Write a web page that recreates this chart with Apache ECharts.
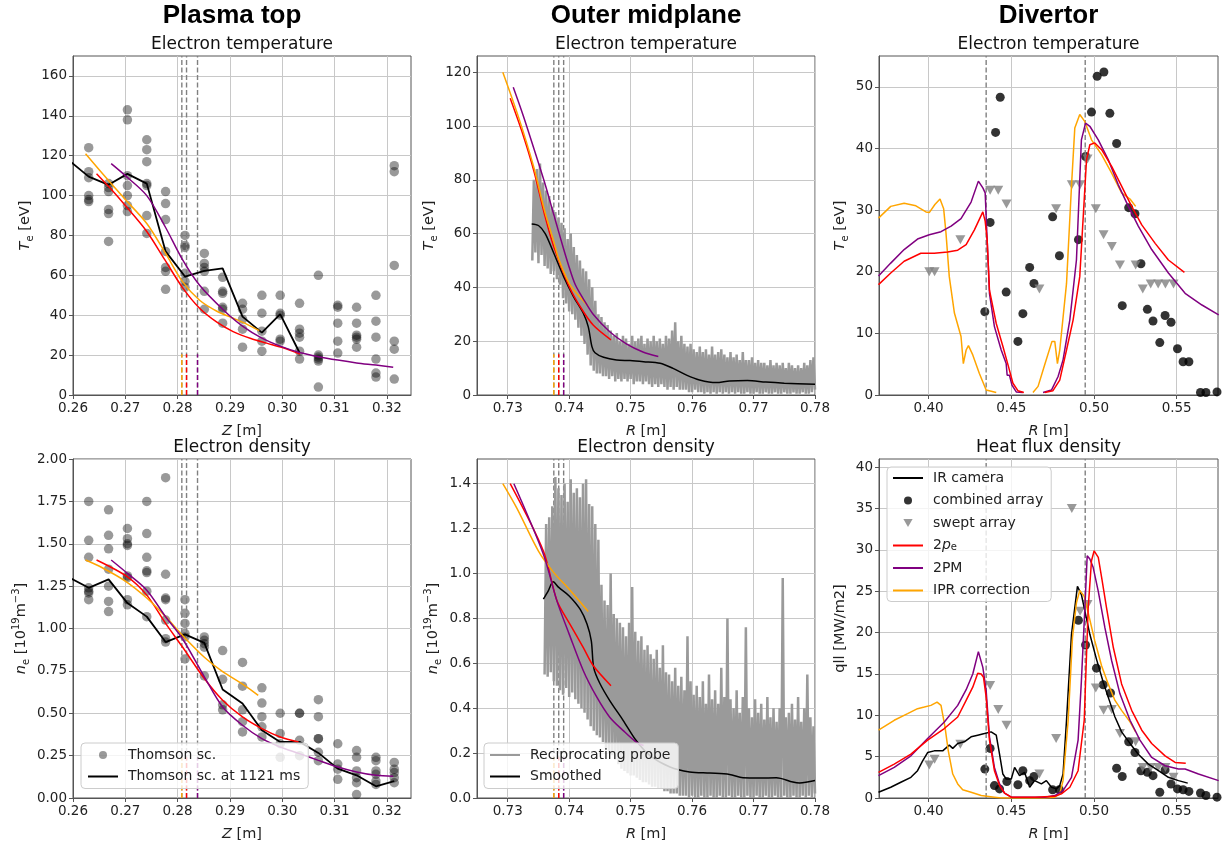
<!DOCTYPE html>
<html>
<head>
<meta charset="utf-8">
<script src="https://cdn.jsdelivr.net/npm/echarts@6/dist/echarts.min.js"></script>
<style>
  html, body { margin: 0; padding: 0; background: #fff; }
  #chart { width: 1223px; height: 845px; }
</style>
</head>
<body>
<div id="chart"></div>
<script>
// ---------- text ----------
const columnTitles = ["Plasma top", "Outer midplane", "Divertor"];
const panelTitles = ["Electron temperature", "Electron temperature", "Electron temperature",
  "Electron density", "Electron density", "Heat flux density"];

// ---------- axes ----------
const xTicksZ = [0.26, 0.27, 0.28, 0.29, 0.30, 0.31, 0.32];
const xTicksMid = [0.73, 0.74, 0.75, 0.76, 0.77, 0.78];
const xTicksDiv = [0.40, 0.45, 0.50, 0.55];
const yTicksTopTe = [0, 20, 40, 60, 80, 100, 120, 140, 160];
const yTicksMidTe = [0, 20, 40, 60, 80, 100, 120];
const yTicksDivTe = [0, 10, 20, 30, 40, 50];
const yTicksTopNe = [0, 0.25, 0.5, 0.75, 1.0, 1.25, 1.5, 1.75, 2.0];
const yTicksMidNe = [0, 0.2, 0.4, 0.6, 0.8, 1.0, 1.2, 1.4];
const yTicksQ = [0, 5, 10, 15, 20, 25, 30, 35, 40];
const xRanges = [[0.26, 0.3246], [0.725, 0.78], [0.37, 0.575], [0.26, 0.3246], [0.725, 0.78], [0.37, 0.575]];
const yRanges = [[0, 170], [0, 126], [0, 55], [0, 2], [0, 1.51], [0, 41]];

// ---------- separatrix / strike-point positions ----------
const sepTop = [0.2808, 0.2817, 0.2838];        // orange, red, purple
const sepMid = [0.7375, 0.7383, 0.7391];
const sepDiv = [0.4348, 0.4947];
const markFrac = 0.12;

// ---------- Plasma top: Thomson scattering ----------
const thomsonZ = [0.2630, 0.2668, 0.2704, 0.2741, 0.2777, 0.2814, 0.2851, 0.2886, 0.2924,
  0.2961, 0.2996, 0.3033, 0.3069, 0.3106, 0.3142, 0.3179, 0.3214];
const thomsonTe = [
  [124, 112, 109, 100, 98, 97],
  [106, 104, 102, 93, 91, 77],
  [143, 138, 110, 105, 100, 95, 92],
  [128, 123, 117, 106, 105, 90, 81],
  [102, 96, 88, 72, 64, 62, 53],
  [80, 75, 74, 61, 57, 54],
  [71, 66, 64, 62, 52, 43],
  [59, 52, 51, 44, 43, 36],
  [46, 43, 38, 33, 24],
  [50, 41, 32, 27, 22],
  [50, 41, 40, 28, 27],
  [46, 33, 31, 29, 22, 18],
  [60, 20, 19, 18, 17, 4],
  [45, 44, 36, 27, 21],
  [44, 36, 30, 29, 28, 24],
  [50, 37, 29, 18, 11, 9],
  [115, 112, 65, 27, 23, 8]
];
const thomsonNe = [
  [1.75, 1.52, 1.42, 1.24, 1.22, 1.21, 1.17],
  [1.70, 1.55, 1.47, 1.35, 1.25, 1.16, 1.10],
  [1.59, 1.53, 1.50, 1.49, 1.31, 1.30, 1.17, 1.14],
  [1.75, 1.56, 1.42, 1.34, 1.33, 1.22, 1.07],
  [1.89, 1.32, 1.18, 1.17, 1.05, 0.94, 0.92],
  [1.17, 1.09, 1.03, 0.97, 0.95, 0.82],
  [0.95, 0.93, 0.91, 0.89, 0.72],
  [0.87, 0.70, 0.55, 0.52],
  [0.80, 0.66, 0.52, 0.45, 0.39],
  [0.65, 0.56, 0.48, 0.42, 0.36],
  [0.50, 0.38, 0.32, 0.24],
  [0.50, 0.50, 0.34, 0.25],
  [0.58, 0.48, 0.35, 0.35, 0.27, 0.22],
  [0.32, 0.20, 0.17, 0.11],
  [0.28, 0.24, 0.16, 0.12, 0.09, 0.02],
  [0.24, 0.22, 0.16, 0.14, 0.10, 0.08],
  [0.21, 0.17, 0.15, 0.12, 0.09]
];
const te1121 = [[0.2593, 117.5], [0.2630, 109.5], [0.2668, 105.4], [0.2704, 110.9], [0.2741, 106],
  [0.2777, 72], [0.2814, 59.4], [0.2851, 62.2], [0.2886, 63.5], [0.2924, 39.3], [0.2961, 31.3],
  [0.2996, 40.6], [0.3033, 21.2]];
const ne1121 = [[0.2593, 1.30], [0.2630, 1.24], [0.2668, 1.29], [0.2704, 1.15], [0.2741, 1.07],
  [0.2777, 0.92], [0.2814, 0.965], [0.2851, 0.915], [0.2886, 0.64], [0.2924, 0.557], [0.2961, 0.40],
  [0.2996, 0.331], [0.3033, 0.331], [0.3069, 0.266], [0.3106, 0.173], [0.3142, 0.134],
  [0.3179, 0.069], [0.3214, 0.10]];

const topTeIpr = [[0.2624, 121], [0.265, 113], [0.27, 98], [0.2741, 86], [0.2777, 71], [0.2809, 57],
  [0.2842, 47.5], [0.2875, 42], [0.2906, 38.5], [0.293, 35.8], [0.2956, 32.3]];
const topTe2pe = [[0.2645, 111], [0.267, 104], [0.27, 95], [0.2741, 82], [0.2775, 68], [0.2809, 54],
  [0.2842, 43.5], [0.2875, 36.5], [0.2906, 31.8], [0.294, 28.3], [0.297, 26], [0.30, 23.8], [0.3034, 20.5]];
const topTe2pm = [[0.2673, 116], [0.27, 110], [0.2741, 100], [0.2777, 84], [0.2809, 68], [0.2842, 55],
  [0.2886, 43], [0.2924, 34.5], [0.2961, 28.5], [0.2996, 24.5], [0.3033, 21.3], [0.3069, 19.2],
  [0.3106, 17.5], [0.3142, 16.1], [0.3179, 15], [0.3212, 13.9]];

const topNeIpr = [[0.2624, 1.404], [0.2655, 1.36], [0.27, 1.28], [0.2741, 1.18], [0.2777, 1.07],
  [0.2809, 0.96], [0.2851, 0.83], [0.2886, 0.745], [0.2924, 0.672], [0.2954, 0.606]];
const topNe2pe = [[0.2645, 1.404], [0.2704, 1.305], [0.2741, 1.197], [0.2777, 1.03], [0.2809, 0.892],
  [0.2851, 0.705], [0.2886, 0.577], [0.2924, 0.478], [0.2961, 0.409], [0.2996, 0.36], [0.3031, 0.33]];
const topNe2pm = [[0.2673, 1.404], [0.2704, 1.325], [0.2741, 1.226], [0.2777, 1.069], [0.2809, 0.941],
  [0.2851, 0.715], [0.2886, 0.537], [0.2924, 0.429], [0.2961, 0.35], [0.2996, 0.301], [0.3033, 0.262],
  [0.3069, 0.222], [0.3106, 0.183], [0.3142, 0.154], [0.3179, 0.134], [0.3212, 0.128]];

// ---------- Outer midplane: reciprocating probe (sampled every 0.25 mm) ----------
const probeTeStart = 0.734;
const probeNeStart = 0.736;
const probeStep = 0.00025;
const probeTe = [
  50, 80, 53, 84, 49, 86, 52, 79, 48, 76,
  47, 74, 45, 70, 46, 68, 43, 66, 41, 64,
  36, 62, 34, 58, 31, 60, 30, 55, 28, 52,
  25, 50, 22, 47, 19, 46, 15, 43, 11, 40,
  9, 35, 8, 30, 8, 29, 7, 27, 7, 26,
  6, 24, 7, 22, 5, 23, 6, 20, 5, 22,
  6, 21, 5, 19, 6, 22, 4, 20, 5, 21,
  5, 22, 4, 19, 5, 21, 4, 20, 3, 22,
  4, 20, 3, 21, 4, 19, 3, 22, 2, 21,
  3, 24, 2, 27, 3, 20, 2, 22, 2, 19,
  2, 18, 1, 19, 1, 17, 2, 16, 1, 18,
  1, 16, 0.5, 17, 1, 15, 0.5, 18, 1, 15,
  0.5, 16, 1, 17, 0.5, 15, 1, 14, 0.5, 16,
  1, 14, 0.5, 15, 1, 13, 0.5, 16, 0.5, 13,
  1, 13, 0.5, 14, 0.5, 12, 1, 13, 0.5, 12,
  0.5, 12, 1, 11, 0.5, 13, 0.5, 11, 1, 12,
  0.5, 11, 0.5, 12, 1, 10, 0.5, 12, 0.5, 11,
  1, 10, 0.5, 11, 0.5, 10, 1, 12, 0.5, 11,
  0.5, 13, 1, 14, 2];
const probeNe = [
  0.55, 1.22, 0.54, 1.25, 0.56, 1.30, 0.52, 1.43, 0.50, 1.38,
  0.48, 1.35, 0.46, 1.40, 0.49, 1.32, 0.45, 1.42, 0.47, 1.36,
  0.44, 1.38, 0.42, 1.34, 0.40, 1.40, 0.38, 1.42, 0.35, 1.31,
  0.32, 1.30, 0.30, 1.22, 0.28, 1.15, 0.27, 0.95, 0.25, 0.88,
  0.22, 0.86, 0.20, 1.00, 0.19, 0.82, 0.17, 0.80, 0.15, 0.78,
  0.13, 0.76, 0.12, 0.72, 0.11, 0.78, 0.10, 0.94, 0.10, 0.74,
  0.09, 0.70, 0.08, 0.72, 0.07, 0.66, 0.07, 0.68, 0.06, 0.64,
  0.05, 0.62, 0.05, 0.66, 0.04, 0.58, 0.04, 0.68, 0.03, 0.56,
  0.03, 0.55, 0.02, 0.52, 0.02, 0.58, 0.02, 0.50, 0.01, 0.54,
  0.01, 0.48, 0.01, 0.72, 0.0, 0.52, 0.01, 0.46, 0.0, 0.50,
  0.0, 0.45, 0.01, 0.52, 0.0, 0.42, 0.0, 0.55, 0.01, 0.44,
  0.0, 0.48, 0.0, 0.42, 0.01, 0.58, 0.0, 0.45, 0.0, 0.80,
  0.01, 0.44, 0.0, 0.40, 0.0, 0.48, 0.01, 0.38, 0.0, 0.45,
  0.0, 0.76, 0.01, 0.40, 0.0, 0.36, 0.0, 0.44, 0.01, 0.38,
  0.0, 0.42, 0.0, 0.35, 0.01, 0.45, 0.0, 0.36, 0.0, 0.40,
  0.01, 0.34, 0.0, 0.40, 0.0, 0.98, 0.01, 0.36, 0.0, 0.38,
  0.0, 0.42, 0.01, 0.35, 0.0, 0.45, 0.0, 0.34, 0.01, 0.40,
  0.0, 0.55, 0.01, 0.36, 0.0, 0.32, 0.02];
const midTeSmooth = [[0.7339, 63.6], [0.735, 63], [0.7361, 60], [0.7375, 52.7], [0.7391, 44],
  [0.7407, 36.6], [0.7423, 30.4], [0.7431, 25.4], [0.7437, 18], [0.7442, 15.7], [0.7456, 14],
  [0.7477, 13], [0.7499, 12.8], [0.7521, 12.4], [0.7548, 11.8], [0.7569, 9.9], [0.7591, 7.4],
  [0.7612, 5.6], [0.7639, 4.6], [0.7661, 5.2], [0.769, 5.4], [0.772, 4.8], [0.775, 4.4], [0.78, 4.0]];
const midNeSmooth = [[0.7358, 0.886], [0.7366, 0.923], [0.7374, 0.963], [0.7383, 0.938], [0.74, 0.90],
  [0.7418, 0.84], [0.7429, 0.775], [0.7436, 0.70], [0.7440, 0.58], [0.745, 0.51], [0.7466, 0.434],
  [0.7488, 0.345], [0.7509, 0.256], [0.7531, 0.19], [0.7564, 0.138], [0.7596, 0.116], [0.7629, 0.111],
  [0.7661, 0.105], [0.7683, 0.09], [0.771, 0.089], [0.7737, 0.09], [0.7764, 0.071], [0.7775, 0.067],
  [0.78, 0.078]];

const midTeIpr = [[0.7292, 120], [0.7318, 103], [0.7342, 85], [0.736, 68.5], [0.7375, 57], [0.7383, 50.5],
  [0.74, 41.5], [0.7412, 37.8], [0.7431, 33]];
const midTe2pe = [[0.7304, 110.3], [0.7323, 98], [0.7342, 83.7], [0.736, 67], [0.7375, 55], [0.74, 40.3],
  [0.7418, 32.8], [0.7439, 26], [0.7468, 20.5]];
const midTe2pm = [[0.7309, 114.4], [0.7325, 104], [0.7342, 92], [0.736, 79], [0.7375, 67], [0.739, 55],
  [0.74, 47.5], [0.741, 41], [0.7425, 35], [0.7439, 30], [0.7466, 23.5], [0.7493, 19], [0.752, 16], [0.7545, 14.3]];
const midNeIpr = [[0.7292, 1.40], [0.7315, 1.29], [0.735, 1.10], [0.7375, 1.004], [0.74, 0.93], [0.7431, 0.831]];
const midNe2pe = [[0.7304, 1.40], [0.7358, 1.10], [0.738, 0.88], [0.74, 0.78], [0.7423, 0.67],
  [0.7439, 0.59], [0.7468, 0.50]];
const midNe2pm = [[0.731, 1.40], [0.7358, 1.086], [0.738, 0.878], [0.74, 0.73], [0.7423, 0.567],
  [0.7445, 0.449], [0.7466, 0.36], [0.7488, 0.30], [0.7509, 0.249], [0.7521, 0.234]];

// ---------- Divertor ----------
const divTeComb = [[0.434, 13.5], [0.4372, 28], [0.4405, 42.6], [0.4433, 48.3], [0.4469, 16.7], [0.454, 8.7],
  [0.457, 13.2], [0.4611, 20.7], [0.4637, 18.1], [0.475, 28.9], [0.4791, 22.6], [0.4906, 25.2],
  [0.4949, 38.7], [0.4985, 45.9], [0.5019, 51.7], [0.506, 52.4], [0.5096, 45.7], [0.5137, 40.8],
  [0.5171, 14.5], [0.521, 30.4], [0.5248, 29.4], [0.5284, 21.3], [0.5323, 13.9], [0.5357, 12],
  [0.5398, 8.5], [0.543, 12.9], [0.5466, 11.8], [0.5505, 7.5], [0.5539, 5.4], [0.5574, 5.4],
  [0.5644, 0.4], [0.5677, 0.4], [0.5744, 0.5]];
const divTeSwept = [[0.4004, 20], [0.4036, 20], [0.4192, 25.2], [0.4372, 33.2], [0.4421, 33.2], [0.4471, 31],
  [0.467, 17.2], [0.4771, 30.2], [0.4866, 34.1], [0.4916, 34.1], [0.4961, 38.3], [0.5011, 30.2],
  [0.5058, 26], [0.5108, 24.1], [0.5157, 21.1], [0.5252, 21.1], [0.5295, 17.2], [0.5343, 18],
  [0.5388, 18], [0.5432, 18], [0.5481, 18]];
const divTeIpr = [[0.3697, 28.7], [0.3771, 30.6], [0.3852, 31.1], [0.3923, 30.7], [0.3984, 29.7],
  [0.4004, 29.6], [0.4038, 30.9], [0.4069, 31.8], [0.4091, 30.2], [0.4105, 26.3], [0.4125, 19.2],
  [0.4156, 13.3], [0.4196, 9.5], [0.421, 5.1], [0.4227, 7.3], [0.4241, 8], [0.4267, 6.5],
  [0.4307, 3.5], [0.4348, 0.8], [0.4409, 0.4], [0.45, "-"], [0.4631, 0.4], [0.4662, 1.4],
  [0.4702, 4.9], [0.4746, 8.7], [0.4763, 8.7], [0.4779, 5.1], [0.4793, 7.3], [0.4834, 18.1],
  [0.4864, 33.9], [0.4884, 43.3], [0.4914, 45.5], [0.4944, 44.4], [0.4985, 41.4], [0.5046, 39],
  [0.5107, 36], [0.5167, 32.8], [0.5218, 31.8], [0.5252, 30.6]];
const divTe2pm = [[0.3697, 19.3], [0.3771, 21.4], [0.3852, 23.6], [0.3933, 25.3], [0.4004, 26],
  [0.4075, 26.5], [0.4136, 27.4], [0.4196, 28.6], [0.4257, 31.3], [0.4301, 34.7], [0.4328, 33.6],
  [0.4342, 32.8], [0.4354, 25.2], [0.4368, 16.5], [0.4398, 11.1], [0.4439, 7.3], [0.4469, 5.1],
  [0.4475, 3.2], [0.4489, 3.2], [0.4504, 1.6], [0.453, 0.5], [0.457, 0.4], [0.463, "-"],
  [0.4692, 0.4], [0.4743, 0.8], [0.4783, 3], [0.4813, 5.7], [0.4854, 12.2], [0.4894, 21.9],
  [0.4924, 41.4], [0.4949, 44.1], [0.4975, 43.6], [0.5026, 41.4], [0.5086, 38.2], [0.5147, 34.1],
  [0.5208, 30.6], [0.5268, 27.4], [0.5349, 23.6], [0.545, 19.8], [0.5551, 16.5], [0.5653, 14.6],
  [0.5754, 13]];
const divTe2pe = [[0.3697, 17.9], [0.3771, 19.8], [0.3852, 21.7], [0.3953, 23], [0.4034, 23],
  [0.4115, 23.2], [0.4176, 23.5], [0.4227, 24.4], [0.4277, 26.8], [0.4328, 29.7], [0.4342, 28.2],
  [0.4354, 25.2], [0.4368, 17], [0.4409, 11.6], [0.4449, 7.9], [0.4483, 4.6], [0.451, 1.9],
  [0.454, 0.7], [0.4576, 0.4], [0.464, "-"], [0.4702, 0.4], [0.4752, 0.7], [0.4793, 2.4],
  [0.4834, 7.3], [0.4874, 12.2], [0.4914, 19.2], [0.4941, 31.7], [0.4955, 38.2], [0.4975, 40.6],
  [0.5005, 40.9], [0.5046, 39.8], [0.5107, 37.1], [0.5167, 33.9], [0.5228, 30.6], [0.5289, 27.6],
  [0.537, 24.6], [0.545, 21.9], [0.5547, 19.9]];

const divQIr = [[0.3697, 0.7], [0.3771, 1.3], [0.3832, 1.9], [0.3893, 2.5], [0.3933, 3.3], [0.3964, 4.5],
  [0.3994, 5.5], [0.4034, 5.7], [0.4085, 5.7], [0.4125, 6.4], [0.4146, 6.0], [0.4176, 6.6],
  [0.4216, 6.8], [0.4257, 7.4], [0.4297, 7.6], [0.4338, 7.8], [0.4378, 8.0], [0.4409, 7.6],
  [0.4429, 5.3], [0.4449, 2.9], [0.4469, 2.3], [0.45, 2.3], [0.452, 3.7], [0.455, 2.7], [0.458, 3.1],
  [0.4611, 1.3], [0.4641, 2.1], [0.4682, 1.7], [0.4712, 2.1], [0.4743, 1.3], [0.4773, 1.1],
  [0.4793, 1.5], [0.4813, 2.9], [0.4834, 9.4], [0.4864, 19.8], [0.49, 25.6], [0.4924, 24.6],
  [0.4945, 22.6], [0.4975, 19.8], [0.5015, 16.8], [0.5056, 14], [0.5086, 12.2], [0.5127, 9.8],
  [0.5167, 8], [0.5218, 6.6], [0.5268, 5.3], [0.5329, 4.1], [0.539, 3.3], [0.545, 2.5],
  [0.5511, 2.1], [0.5567, 1.8]];
const divQComb = [[0.434, 3.5], [0.4372, 6], [0.4398, 1.5], [0.4429, 1.1], [0.4473, 2], [0.454, 1.6],
  [0.457, 3.3], [0.4611, 2.1], [0.4637, 2.6], [0.475, 1], [0.4791, 1], [0.4906, 21.5], [0.4949, 18.5],
  [0.5015, 15.7], [0.5056, 13.7], [0.51, 12.7], [0.5137, 3.6], [0.5171, 2.6], [0.521, 6.8],
  [0.5248, 5.5], [0.5284, 3.3], [0.5323, 3.1], [0.5357, 2.7], [0.5398, 0.7], [0.543, 3.4],
  [0.5466, 1.7], [0.5505, 1.1], [0.5539, 1], [0.5574, 0.8], [0.5644, 0.6], [0.5677, 0.3], [0.5744, 0.1]];
const divQSwept = [[0.4004, 4], [0.4036, 4.7], [0.4192, 6.5], [0.4372, 13.6], [0.4421, 10.7], [0.4471, 8.8],
  [0.467, 2.9], [0.4771, 7.2], [0.4866, 35], [0.4916, 22.6], [0.4961, 23.4], [0.5011, 13.3],
  [0.5058, 10.6], [0.5108, 10.7], [0.5157, 7.8], [0.5252, 6.8], [0.5295, 3.7], [0.5343, 3.7],
  [0.5388, 3.7], [0.5432, 3.7], [0.5481, 2.5]];
const divQ2pe = [[0.3697, 3.1], [0.3792, 4.1], [0.3893, 5.3], [0.3994, 7], [0.4095, 8.4], [0.4176, 9.8],
  [0.4227, 11.8], [0.4267, 13.4], [0.4297, 15.1], [0.4318, 15], [0.4332, 14.6], [0.4348, 12.2],
  [0.4368, 7], [0.4398, 3.3], [0.4429, 1.5], [0.4459, 0.6], [0.45, 0.1], [0.4642, 0.1], [0.4763, 0.2],
  [0.4803, 0.5], [0.4854, 1.3], [0.4904, 3.3], [0.4941, 9.4], [0.4965, 23], [0.4985, 28.7],
  [0.5001, 29.9], [0.5026, 29.1], [0.5046, 26.7], [0.5076, 23], [0.5117, 18.2], [0.5167, 13.8],
  [0.5228, 10.6], [0.5289, 8.2], [0.5349, 6.6], [0.543, 5.1], [0.5491, 4.3], [0.5555, 4.2]];
const divQ2pm = [[0.3697, 2.7], [0.3792, 3.7], [0.3893, 5.1], [0.3994, 7.2], [0.4095, 9.2], [0.4176, 11.2],
  [0.4227, 13.1], [0.4267, 15], [0.4301, 17.7], [0.4328, 15.8], [0.4348, 13], [0.4368, 7.4],
  [0.4398, 3.7], [0.4429, 1.7], [0.4459, 0.6], [0.45, 0.1], [0.4702, 0.1], [0.4763, 0.3],
  [0.4813, 0.9], [0.4864, 2.5], [0.4904, 7], [0.4924, 14.2], [0.4945, 23], [0.4959, 29.3],
  [0.4975, 28.9], [0.4995, 27.9], [0.5026, 25], [0.5066, 20.6], [0.5107, 16.6], [0.5157, 12.6],
  [0.5218, 9.4], [0.5278, 7], [0.5349, 4.9], [0.543, 3.9], [0.5511, 3.5], [0.5551, 3.5],
  [0.5632, 2.9], [0.5754, 2.1]];
const divQIpr = [[0.3697, 8.2], [0.3792, 9.4], [0.3873, 10.2], [0.3933, 10.8], [0.3974, 11], [0.4014, 11.2],
  [0.4051, 11.6], [0.4075, 11.2], [0.4099, 8.6], [0.4119, 5.7], [0.4146, 2.9], [0.4176, 1.7],
  [0.4206, 1], [0.4257, 0.7], [0.4318, 0.3], [0.4398, 0.1], [0.4439, 0], [0.4702, 0], [0.4763, 0.1],
  [0.4793, 0.5], [0.4813, 2.1], [0.4844, 9.4], [0.487, 19.4], [0.4894, 23.6], [0.4914, 25.1],
  [0.4941, 24.4], [0.4965, 22.4], [0.5005, 19], [0.5046, 16], [0.5086, 13.8], [0.5127, 11.8],
  [0.5167, 10.6], [0.5218, 9.2], [0.5252, 8]];

// ---------- styling ----------
const FONT = "DejaVu Sans";
const RED = "#ff0000", PURPLE = "#800080", ORANGE = "#ffa500", GRAY = "#808080";
const FRAME = "#555555";
const gridBoxes = [
  { left: 73, top: 56, width: 338, height: 339 },
  { left: 477, top: 56, width: 338, height: 339 },
  { left: 879, top: 56, width: 339, height: 339 },
  { left: 73, top: 459, width: 338, height: 339 },
  { left: 477, top: 459, width: 338, height: 339 },
  { left: 879, top: 459, width: 339, height: 339 }
];
const richName = {
  i: { fontStyle: "italic" },
  s: { fontSize: 10, verticalAlign: "bottom", lineHeight: 10 },
  p: { fontSize: 10, verticalAlign: "top", lineHeight: 10 }
};

function xAxisCfg(i, ticks, name) {
  return {
    type: "value", gridIndex: i, min: xRanges[i][0], max: xRanges[i][1],
    name: name, nameLocation: "middle", nameGap: 28.5,
    nameTextStyle: { fontFamily: FONT, fontSize: 14.5, color: "#222", rich: richName },
    axisLine: { show: true, onZero: false, lineStyle: { color: FRAME } },
    axisTick: { show: true, length: 4, customValues: ticks, lineStyle: { color: FRAME } },
    axisLabel: { customValues: ticks, formatter: (v) => v.toFixed(2), fontFamily: FONT, fontSize: 13.5, color: "#222", margin: 6 },
    splitLine: { show: true, lineStyle: { color: "#c8c8c8", width: 1 } }
  };
}
function yAxisCfg(i, ticks, dec, name, gap) {
  return {
    type: "value", gridIndex: i, min: yRanges[i][0], max: yRanges[i][1],
    name: name, nameLocation: "middle", nameGap: gap,
    nameTextStyle: { fontFamily: FONT, fontSize: 14.5, color: "#222", lineHeight: 20, rich: richName },
    axisLine: { show: true, onZero: false, lineStyle: { color: FRAME } },
    axisTick: { show: true, length: 4, customValues: ticks, lineStyle: { color: FRAME } },
    axisLabel: { customValues: ticks, formatter: (v) => v.toFixed(dec), fontFamily: FONT, fontSize: 13.5, color: "#222", margin: 6 },
    splitLine: { show: true, lineStyle: { color: "#c8c8c8", width: 1 } }
  };
}

function line(name, g, data, color, width, smooth) {
  return {
    type: "line", name: name, xAxisIndex: g, yAxisIndex: g, data: data,
    symbol: "none", smooth: smooth || false,
    lineStyle: { color: color, width: width }, itemStyle: { color: color },
    emphasis: { disabled: true }, animation: false
  };
}
function dots(name, g, data, color, symbol, size) {
  return {
    type: "scatter", name: name, xAxisIndex: g, yAxisIndex: g, data: data,
    symbol: symbol, symbolSize: size, itemStyle: { color: color },
    emphasis: { disabled: true }, animation: false
  };
}
function vline(g, x, color, frac) {
  const yTop = yRanges[g][0] + (yRanges[g][1] - yRanges[g][0]) * frac;
  return {
    type: "line", xAxisIndex: g, yAxisIndex: g, data: [[x, yRanges[g][0]], [x, yTop]],
    symbol: "none", silent: true, lineStyle: { color: color, width: 1.4, type: [5, 2.5] },
    emphasis: { disabled: true }, animation: false
  };
}
function columnsToPoints(xs, cols) {
  const out = [];
  xs.forEach((x, i) => cols[i].forEach((v) => out.push([x, v])));
  return out;
}
function probePoints(start, vals) {
  return vals.map((v, i) => [+(start + i * probeStep).toFixed(5), v]);
}

const TRI_DOWN = "path://M0,0 L10,0 L5,8.66 Z";
const series = [];

// vertical separatrix lines
[0, 3].forEach((g) => {
  sepTop.forEach((x) => series.push(vline(g, x, GRAY, 1)));
  [ORANGE, RED, PURPLE].forEach((c, k) => series.push(vline(g, sepTop[k], c, markFrac)));
});
[1, 4].forEach((g) => {
  sepMid.forEach((x) => series.push(vline(g, x, GRAY, 1)));
  [ORANGE, RED, PURPLE].forEach((c, k) => series.push(vline(g, sepMid[k], c, markFrac)));
});
[2, 5].forEach((g) => sepDiv.forEach((x) => series.push(vline(g, x, GRAY, 1))));

// Plasma top
series.push(dots("Thomson sc.", 0, columnsToPoints(thomsonZ, thomsonTe), "rgba(0,0,0,0.5)", "circle", 9.5));
series.push(line("Thomson sc. at 1121 ms", 0, te1121, "#000", 1.8));
series.push(line("2pe", 0, topTe2pe, RED, 1.5, 0.3));
series.push(line("IPR correction", 0, topTeIpr, ORANGE, 1.5, 0.3));
series.push(line("2PM", 0, topTe2pm, PURPLE, 1.5, 0.3));
series.push(dots("Thomson sc.", 3, columnsToPoints(thomsonZ, thomsonNe), "rgba(0,0,0,0.5)", "circle", 9.5));
series.push(line("Thomson sc. at 1121 ms", 3, ne1121, "#000", 1.8));
series.push(line("2pe", 3, topNe2pe, RED, 1.5, 0.3));
series.push(line("IPR correction", 3, topNeIpr, ORANGE, 1.5, 0.3));
series.push(line("2PM", 3, topNe2pm, PURPLE, 1.5, 0.3));

// Outer midplane
series.push(line("Reciprocating probe", 1, probePoints(probeTeStart, probeTe), "#9a9a9a", 2.5));
series.push(line("Smoothed", 1, midTeSmooth, "#000", 1.5, 0.3));
series.push(line("2pe", 1, midTe2pe, RED, 1.5, 0.3));
series.push(line("IPR correction", 1, midTeIpr, ORANGE, 1.5, 0.3));
series.push(line("2PM", 1, midTe2pm, PURPLE, 1.5, 0.3));
series.push(line("Reciprocating probe", 4, probePoints(probeNeStart, probeNe), "#9a9a9a", 2.5));
series.push(line("Smoothed", 4, midNeSmooth, "#000", 1.5, 0.3));
series.push(line("2pe", 4, midNe2pe, RED, 1.5, 0.3));
series.push(line("IPR correction", 4, midNeIpr, ORANGE, 1.5, 0.3));
series.push(line("2PM", 4, midNe2pm, PURPLE, 1.5, 0.3));

// Divertor
series.push(line("IPR correction", 2, divTeIpr, ORANGE, 1.5));
series.push(line("2PM", 2, divTe2pm, PURPLE, 1.5));
series.push(line("2pe", 2, divTe2pe, RED, 1.5));
series.push(dots("combined array", 2, divTeComb, "#000", "circle", 9));
series.push(dots("swept array", 2, divTeSwept, GRAY, TRI_DOWN, [10, 9]));
series.push(line("IR camera", 5, divQIr, "#000", 1.5));
series.push(line("IPR correction", 5, divQIpr, ORANGE, 1.5));
series.push(line("2PM", 5, divQ2pm, PURPLE, 1.5));
series.push(line("2pe", 5, divQ2pe, RED, 1.5));
series.push(dots("combined array", 5, divQComb, "#000", "circle", 9));
series.push(dots("swept array", 5, divQSwept, GRAY, TRI_DOWN, [10, 9]));

// legends
const noDot = { color: "rgba(0,0,0,0)" };
const legendBase = {
  orient: "vertical", itemWidth: 30, itemHeight: 8,
  backgroundColor: "rgba(255,255,255,0.8)", borderColor: "#cccccc", borderWidth: 1, borderRadius: 4,
  selectedMode: false,
  textStyle: {
    fontFamily: FONT, fontSize: 14, color: "#222", padding: [0, 0, 0, 5],
    rich: {
      i: { fontStyle: "italic", fontSize: 14, fontFamily: FONT },
      s: { fontSize: 10, fontFamily: FONT, verticalAlign: "bottom", lineHeight: 10 }
    }
  },
  formatter: (n) => (n === "2pe" ? "2{i|p}{s|e}" : n)
};
const legends = [
  Object.assign({}, legendBase, { left: 81, top: 743, padding: [5, 8, 5, 6], itemGap: 7.5,
    data: [{ name: "Thomson sc.", icon: "circle" }, { name: "Thomson sc. at 1121 ms", itemStyle: noDot }] }),
  Object.assign({}, legendBase, { left: 484, top: 743, padding: [5, 8, 5, 5], itemGap: 7.5,
    data: [{ name: "Reciprocating probe", itemStyle: noDot }, { name: "Smoothed", itemStyle: noDot }] }),
  Object.assign({}, legendBase, { left: 887, top: 467, padding: [4, 8, 4, 5], itemGap: 8.5,
    data: [{ name: "IR camera", itemStyle: noDot }, { name: "combined array", icon: "circle" },
      { name: "swept array", icon: TRI_DOWN }, { name: "2pe", itemStyle: noDot },
      { name: "2PM", itemStyle: noDot }, { name: "IPR correction", itemStyle: noDot }] })
];

// titles
const graphics = [];
const colCenters = [232, 646, 1048.5];
columnTitles.forEach((t, k) => graphics.push({
  type: "text", x: colCenters[k], y: 16,
  style: { text: t, font: 'bold 26px "Liberation Sans"', fill: "#000", align: "center", verticalAlign: "middle",
    textAlign: "center", textVerticalAlign: "middle" }
}));
panelTitles.forEach((t, k) => {
  const b = gridBoxes[k];
  graphics.push({
    type: "text", x: b.left + b.width / 2, y: b.top - 11.5,
    style: { text: t, font: '17px "DejaVu Sans"', fill: "#111", align: "center", verticalAlign: "middle",
      textAlign: "center", textVerticalAlign: "middle" }
  });
});

const option = {
  animation: false,
  backgroundColor: "#ffffff",
  grid: gridBoxes.map((b) => Object.assign({ show: true, borderColor: FRAME, borderWidth: 1, containLabel: false }, b)),
  xAxis: [
    xAxisCfg(0, xTicksZ, "{i|Z} [m]"),
    xAxisCfg(1, xTicksMid, "{i|R} [m]"),
    xAxisCfg(2, xTicksDiv, "{i|R} [m]"),
    xAxisCfg(3, xTicksZ, "{i|Z} [m]"),
    xAxisCfg(4, xTicksMid, "{i|R} [m]"),
    xAxisCfg(5, xTicksDiv, "{i|R} [m]")
  ],
  yAxis: [
    yAxisCfg(0, yTicksTopTe, 0, "{i|T}{s|e} [eV]", 38),
    yAxisCfg(1, yTicksMidTe, 0, "{i|T}{s|e} [eV]", 38),
    yAxisCfg(2, yTicksDivTe, 0, "{i|T}{s|e} [eV]", 29),
    yAxisCfg(3, yTicksTopNe, 2, "{i|n}{s|e} [10{p|19}m{p|−3}]", 42),
    yAxisCfg(4, yTicksMidNe, 1, "{i|n}{s|e} [10{p|19}m{p|−3}]", 34),
    yAxisCfg(5, yTicksQ, 0, "qll [MW/m2]", 29)
  ],
  legend: legends,
  graphic: graphics,
  series: series
};

const chart = echarts.init(document.getElementById("chart"), null, { renderer: "canvas" });
chart.setOption(option);
</script>
</body>
</html>
